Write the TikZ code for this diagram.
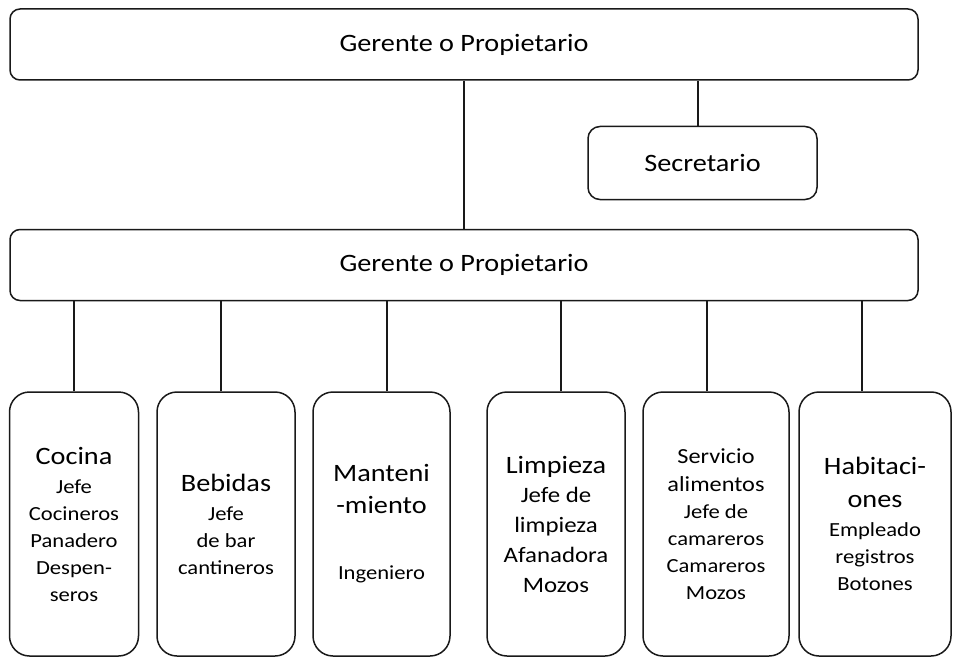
\documentclass[tikz,border=0pt]{standalone}
\usepackage{fontspec}
\setmainfont{Carlito}[FakeStretch=1.13]
\newcommand\tsz{\fontsize{25}{30}\selectfont}
\newcommand\ssz{\fontsize{20}{26}\selectfont}
\newcommand\lsz{\fontsize{22}{27.5}\selectfont}
\newcommand\hsz{\fontsize{21.5}{27}\selectfont}
\begin{document}
\begin{tikzpicture}[x=1pt,y=-1pt,
  box/.style={draw=black!90, line width=1.5pt, inner sep=0pt, align=center},
  wide/.style={box, rounded corners=10pt, minimum width=908pt, minimum height=71pt, font=\tsz},
  secbox/.style={box, rounded corners=12pt, minimum width=229pt, minimum height=73pt, font=\tsz},
  dept/.style={box, rounded corners=20pt, minimum height=264pt, font=\ssz},
  link/.style={line width=1.5pt, black!90}]
\useasboundingbox (0,0) rectangle (953,658);
\node[wide] (top) at (464,44.5) {Gerente o Propietario};
\node[secbox] (sec) at (702.5,163) {Secretario};
\node[wide] (mid) at (464,265) {Gerente o Propietario};
\node[dept, minimum width=129pt] (coc) at (74,524) {\tsz Cocina\\[3pt] \ssz Jefe\\[1pt] \ssz Cocineros\\[1pt] \ssz Panadero\\[1pt] \ssz Despen-\\[1pt] \ssz seros};
\node[dept, minimum width=138pt] (beb) at (226,524) {\tsz Bebidas\\[3pt] \ssz Jefe\\[1pt] \ssz de bar\\[1pt] \ssz cantineros};
\node[dept, minimum width=137pt] (man) at (381.5,524) {\tsz Manteni\\[6pt] \tsz -miento\\[40pt] \ssz Ingeniero};
\node[dept, minimum width=138pt] (lim) at (556,524) {\tsz Limpieza\\[3pt] \lsz Jefe de\\[4pt] \lsz limpieza\\[4pt] \lsz Afanadora\\[4pt] \lsz Mozos};
\node[dept, minimum width=146pt] (ser) at (716,524) {\hsz Servicio\\[2pt] \hsz alimentos\\[1pt] \ssz Jefe de\\[1pt] \ssz camareros\\[1pt] \ssz Camareros\\[1pt] \ssz Mozos};
\node[dept, minimum width=152pt] (hab) at (875,524) {\tsz Habitaci-\\[7pt] \tsz ones\\[3pt] \ssz Empleado\\[1pt] \ssz registros\\[1pt] \ssz Botones};
\draw[link] (top.south) -- (mid.north);
\draw[link] ([xshift=-4.5pt]sec.north) -- ([xshift=-4.5pt]sec.north |- top.south);
\draw[link] (coc.north) -- (coc.north |- mid.south);
\draw[link] ([xshift=-5pt]beb.north) -- ([xshift=-5pt]beb.north |- mid.south);
\draw[link] ([xshift=5.5pt]man.north) -- ([xshift=5.5pt]man.north |- mid.south);
\draw[link] ([xshift=5pt]lim.north) -- ([xshift=5pt]lim.north |- mid.south);
\draw[link] ([xshift=-9pt]ser.north) -- ([xshift=-9pt]ser.north |- mid.south);
\draw[link] ([xshift=-13pt]hab.north) -- ([xshift=-13pt]hab.north |- mid.south);
\end{tikzpicture}
\end{document}
